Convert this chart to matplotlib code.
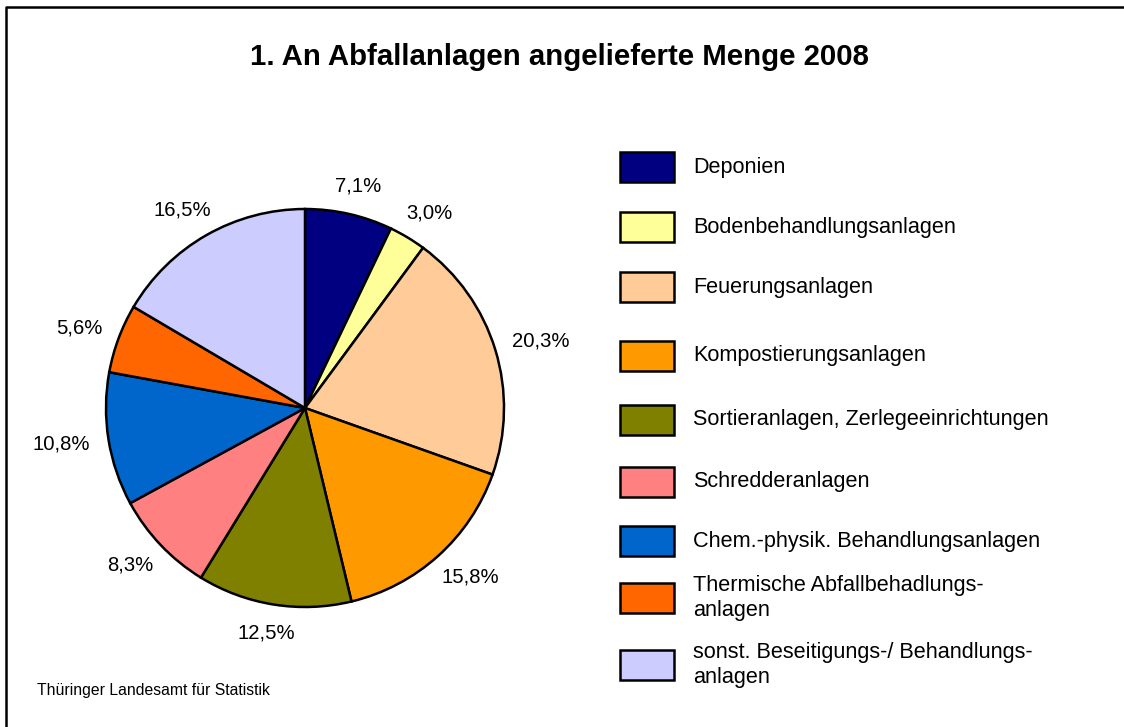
import numpy as np
import matplotlib
matplotlib.use("Agg")
import matplotlib.pyplot as plt
from matplotlib.patches import Rectangle
from matplotlib.lines import Line2D

# ---- data ----
categories = [
    "Deponien",
    "Bodenbehandlungsanlagen",
    "Feuerungsanlagen",
    "Kompostierungsanlagen",
    "Sortieranlagen, Zerlegeeinrichtungen",
    "Schredderanlagen",
    "Chem.-physik. Behandlungsanlagen",
    "Thermische Abfallbehadlungs-\nanlagen",
    "sonst. Beseitigungs-/ Behandlungs-\nanlagen",
]
values = [7.1, 3.0, 20.3, 15.8, 12.5, 8.3, 10.8, 5.6, 16.5]
colors = ["#000080", "#FFFF99", "#FFCC99", "#FF9900", "#808000",
          "#FF8080", "#0066CC", "#FF6600", "#CCCCFF"]
title = "1. An Abfallanlagen angelieferte Menge 2008"
source = "Thüringer Landesamt für Statistik"

plt.rcParams['font.family'] = ['Liberation Sans', 'DejaVu Sans']

W, H = 1124, 727
DPI = 100
fig = plt.figure(figsize=(W / DPI, H / DPI), dpi=DPI)
fig.patch.set_facecolor("white")

# ---- pie ----
cx, cy, R = 305, 408, 199
ax = fig.add_axes([(cx - R) / W, (H - cy - R) / H, 2 * R / W, 2 * R / H])
wedges, _ = ax.pie(values, colors=colors, startangle=90, counterclock=False,
                   radius=1, wedgeprops=dict(edgecolor="black", linewidth=1.8))
ax.set_xlim(-1, 1)
ax.set_ylim(-1, 1)
ax.set_aspect("equal")
ax.axis("off")

label_fs = 14.6
annots = []
for w, v in zip(wedges, values):
    a = np.deg2rad((w.theta1 + w.theta2) / 2)
    txt = f"{v:.1f}".replace(".", ",") + "%"
    an = ax.annotate(txt, xy=(1.095 * np.cos(a), 1.095 * np.sin(a)),
                     xytext=(0, 0), textcoords="offset points",
                     ha="center", va="center", fontsize=label_fs,
                     annotation_clip=False)
    annots.append((an, a))

fig.canvas.draw()
r = fig.canvas.get_renderer()
for an, a in annots:
    bb = an.get_window_extent(r)
    wpx, hpx = bb.width, 20.0
    dx = wpx / 2 * np.cos(a)
    dy = hpx / 2 * np.sin(a)
    an.xyann = (dx * 72 / DPI, dy * 72 / DPI)

# ---- overlay for title, legend, frame ----
ov = fig.add_axes([0, 0, 1, 1])
ov.set_xlim(0, W)
ov.set_ylim(H, 0)
ov.axis("off")
ov.patch.set_visible(False)

ov.text(559, 57, title, ha="center", va="center", fontsize=21.2,
        fontweight="bold")
ov.text(37, 691, source, ha="left", va="center", fontsize=11.3)

# frame (top and left edges visible)
ov.add_line(Line2D([6, 6, W + 5], [H + 5, 7, 7], color="black", lw=1.8))

leg_fs = 15.6
box_tops = [152, 212, 272, 341, 405, 467, 526, 583, 650]
for top, col, lab in zip(box_tops, colors, categories):
    ov.add_patch(Rectangle((620, top), 54, 30, facecolor=col,
                           edgecolor="black", lw=1.8))
    ov.text(693, top + 15, lab, ha="left", va="center", fontsize=leg_fs,
            linespacing=1.25)

fig.savefig("out.png", dpi=DPI)
